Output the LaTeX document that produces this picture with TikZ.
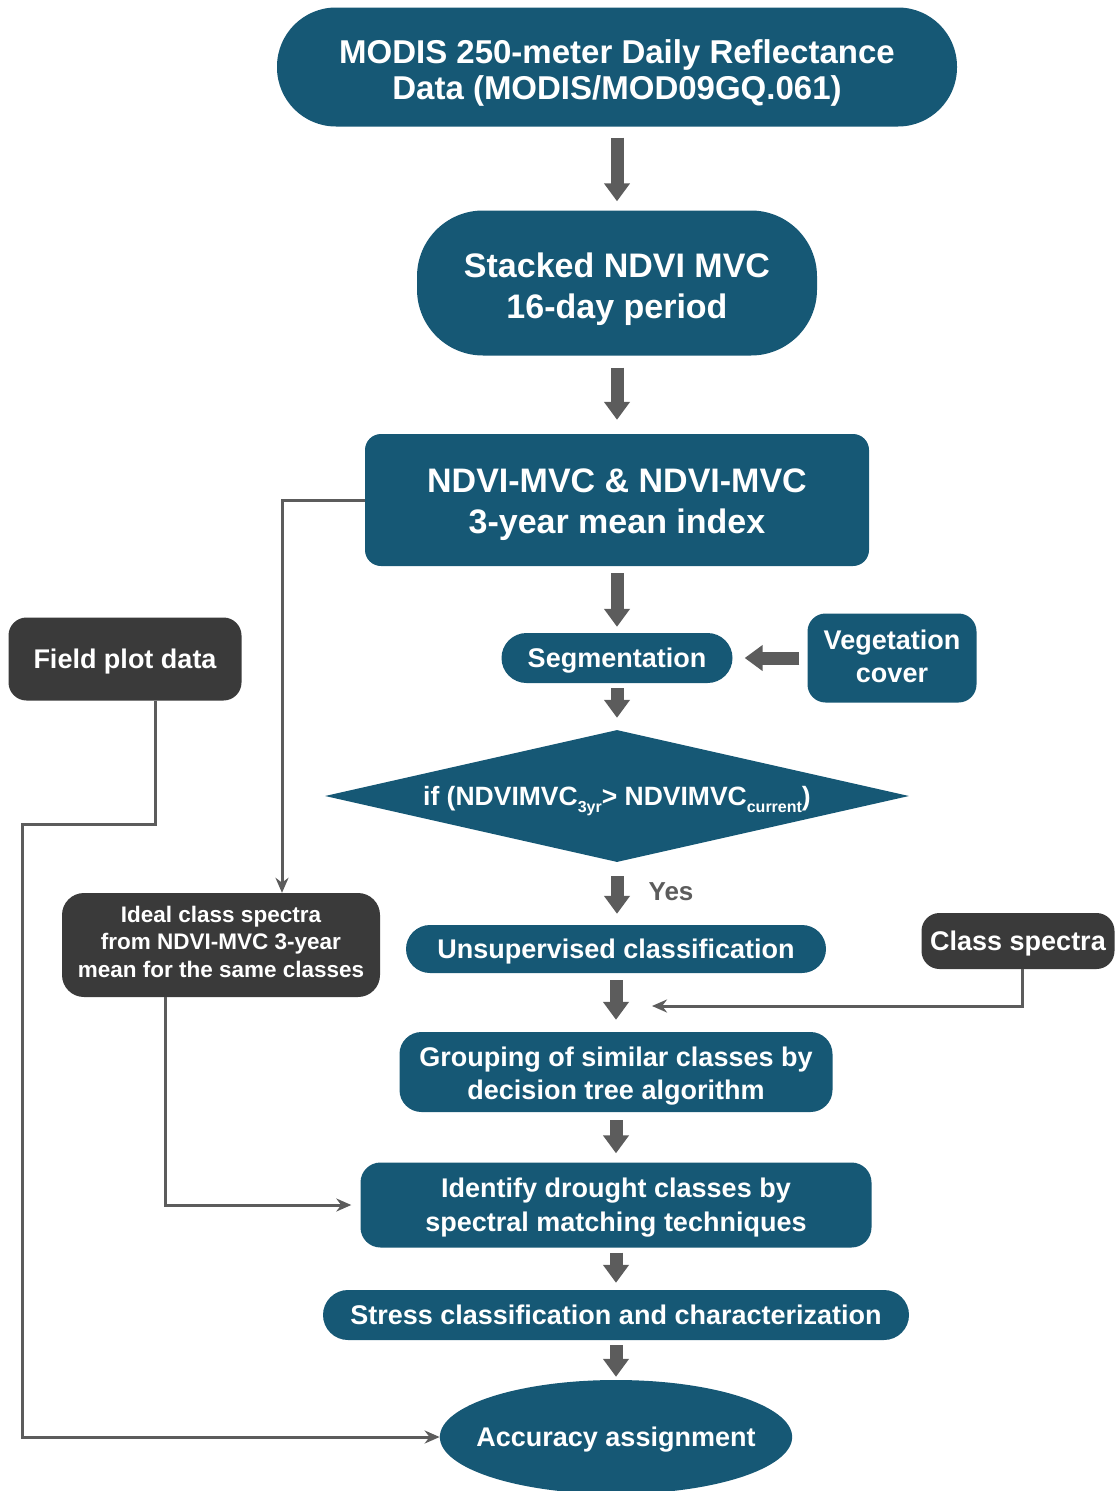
\documentclass[tikz,border=0pt]{standalone}
\usepackage{fontspec}
\setmainfont{Liberation Sans}
\usetikzlibrary{positioning,calc,shapes.geometric,arrows.meta}
\definecolor{flowblue}{RGB}{22,88,117}
\definecolor{flowdark}{RGB}{58,58,58}
\definecolor{flowgrey}{RGB}{92,92,92}
\newcommand{\lowsub}[1]{\raisebox{-0.5ex}{\fontsize{16}{16}\selectfont #1}}

\begin{document}
\begin{tikzpicture}[x=1pt,y=-1pt,
				box/.style={text=white,align=center,inner sep=0pt,text height=19.3pt,text depth=0pt,
					font=\bfseries\fontsize{27}{33}\selectfont},
				bluebox/.style={box,fill=flowblue,rectangle},
				darkbox/.style={box,fill=flowdark,rectangle},
				fat/.style={draw=flowgrey,line width=13pt,-{Triangle[length=18pt,width=25pt]}},
				link/.style={draw=flowgrey,line width=3pt,-{Stealth[length=15pt,width=13pt]}}]
				\useasboundingbox (0,0) rectangle (1118,1491);

				% main column
				\node (modis) [bluebox,minimum width=680pt,minimum height=119pt,rounded corners=59pt,
					text height=65.6pt,
					font=\bfseries\fontsize{33}{36}\selectfont] at (617,67) {MODIS 250-meter Daily Reflectance\\Data (MODIS/MOD09GQ.061)};
				\node (stack) [bluebox,minimum width=400pt,minimum height=145pt,rounded corners=66pt,
					text height=71.3pt,
					font=\bfseries\fontsize{34}{41}\selectfont] at (617,283) {Stacked NDVI MVC\\16-day period};
				\node (ndvi)  [bluebox,minimum width=504pt,minimum height=132pt,rounded corners=16pt,
					text height=66.3pt,
					font=\bfseries\fontsize{34}{41}\selectfont] at (617,500) {NDVI-MVC \& NDVI-MVC\\3-year mean index};
				\node (seg)   [bluebox,minimum width=231pt,minimum height=50pt,rounded corners=25pt] at (617,658) {Segmentation};
				\node (veg)   [bluebox,minimum width=169pt,minimum height=89pt,rounded corners=18pt,
					text height=49.3pt] at (892,658) {Vegetation\\cover};
				\node (test)  [box,fill=flowblue,diamond,aspect=4.4,minimum width=584pt,minimum height=132pt,
					text height=19pt,font=\bfseries\fontsize{26.5}{30}\selectfont] at (617,796) {if (NDVIMVC\lowsub{3yr}> NDVIMVC\lowsub{current})};
				\node (yes)   [text=flowgrey,inner sep=0pt,text height=18.6pt,text depth=0pt,
					font=\bfseries\fontsize{26}{30}\selectfont] at (671,891) {Yes};
				\node (unsup) [bluebox,minimum width=420pt,minimum height=48pt,rounded corners=24pt] at (616,949) {Unsupervised classification};
				\node (group) [bluebox,minimum width=433pt,minimum height=80pt,rounded corners=22pt,
					text height=55.3pt] at (616,1072) {Grouping of similar classes by\\decision tree algorithm};
				\node (ident) [bluebox,minimum width=511pt,minimum height=85pt,rounded corners=20pt,
					text height=53.3pt,font=\bfseries\fontsize{27}{34}\selectfont] at (616,1205) {Identify drought classes by\\spectral matching techniques};
				\node (stress)[bluebox,minimum width=586pt,minimum height=50pt,rounded corners=25pt] at (616,1315) {Stress classification and characterization};
				\node (acc)   [box,fill=flowblue,ellipse,inner xsep=-15pt,minimum width=352pt,minimum height=114pt] at (616,1437) {Accuracy assignment};

				% side inputs
				\node (field) [darkbox,minimum width=233pt,minimum height=83pt,rounded corners=18pt] at (125,659) {Field plot data};
				\node (ideal) [darkbox,minimum width=318pt,minimum height=104pt,rounded corners=22pt,
					text height=64.1pt,
					font=\bfseries\fontsize{22.5}{27.5}\selectfont] at (221,945) {Ideal class spectra\\from NDVI-MVC 3-year\\mean for the same classes};
				\node (cls)   [darkbox,minimum width=193pt,minimum height=56pt,rounded corners=18pt] at (1018,941) {Class spectra};
				\coordinate (clsend) at (652,1006);

				\draw[fat,shorten <=11pt,shorten >=9pt]  (modis) -- (stack);
				\draw[fat,shorten <=12pt,shorten >=14pt] (stack) -- (ndvi);
				\draw[fat,shorten <=7pt,shorten >=6pt]   (ndvi) -- (seg);
				\draw[fat,shorten <=5pt,shorten >=12pt]  (seg) -- (test);
				\draw[fat,shorten <=14pt,shorten >=11pt] (test.south) -- (test.south |- unsup.north);
				\draw[fat,shorten <=7pt,shorten >=12pt]  (unsup) -- (group);
				\draw[fat,shorten <=8pt,shorten >=9pt]   (group) -- (ident);
				\draw[fat,shorten <=5pt,shorten >=7pt]   (ident) -- (stress);
				\draw[fat,shorten <=5pt,shorten >=3pt]   (stress) -- (acc);
				\draw[fat,shorten <=8pt,shorten >=12pt]  (veg) -- (seg);

				\draw[link] (ndvi.west) -| ([xshift=61pt]ideal.north);
				\draw[link,shorten >=9pt] ([xshift=-56pt]ideal.south) |- (ident.west);
				\draw[link] ([xshift=30pt]field.south) |- (22,824) |- (acc.west);
				\draw[link] ([xshift=4pt]cls.south) |- (clsend);
			\end{tikzpicture}
\end{document}
